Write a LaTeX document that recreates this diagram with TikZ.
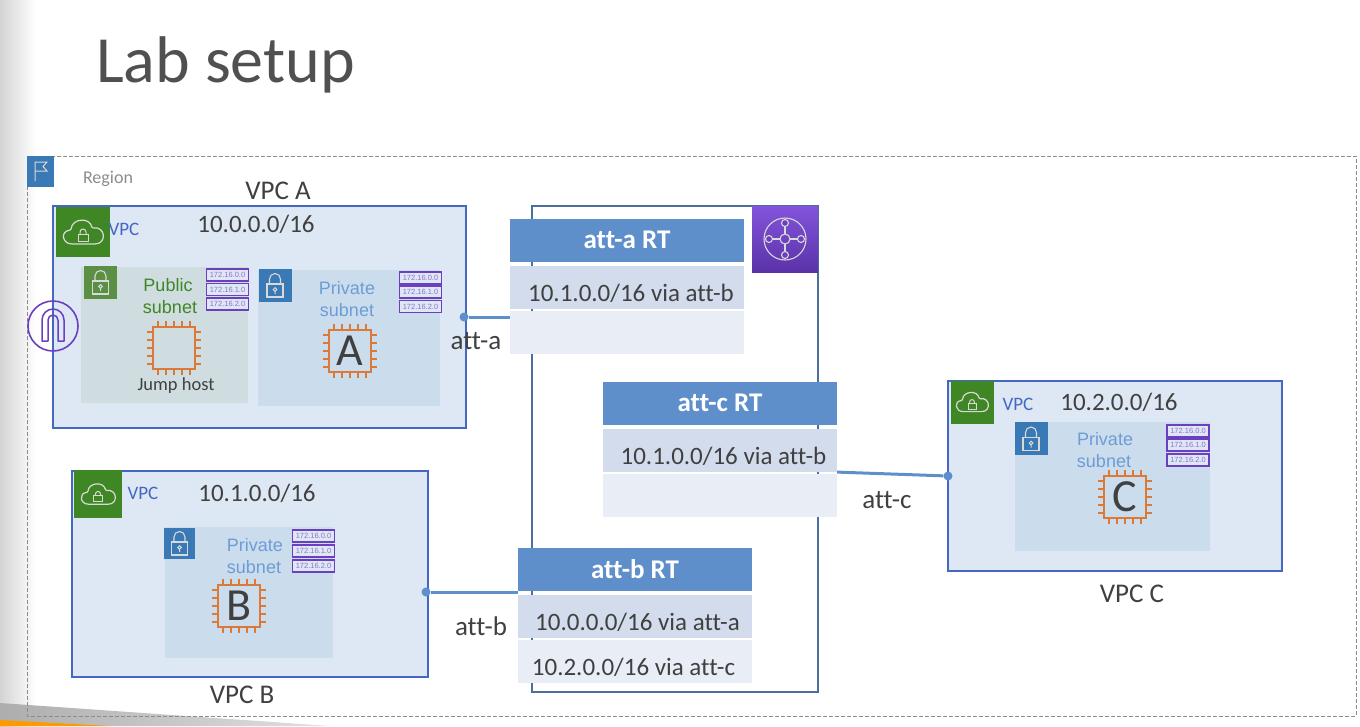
\documentclass[tikz,border=0pt]{standalone}
\usepackage{fontspec}
\setmainfont[Ligatures=NoCommon]{Carlito}
\newfontfamily\arialfont{Liberation Sans}
\usetikzlibrary{positioning}
\definecolor{textgray}{HTML}{404040}
\definecolor{titlegray}{HTML}{505050}
\definecolor{vpcblue}{HTML}{4467C4}
\definecolor{vpcfill}{HTML}{DEE8F4}
\definecolor{pubfill}{HTML}{CFDDE0}
\definecolor{privfill}{HTML}{CBDCEC}
\definecolor{awsgreen}{HTML}{3F8624}
\definecolor{pubgreen}{HTML}{5A8F44}
\definecolor{lockblue}{HTML}{3979B5}
\definecolor{privtext}{HTML}{6D9CD6}
\definecolor{awspurple}{HTML}{6B3FC0}
\definecolor{tgwtop}{HTML}{8354DC}
\definecolor{tgwbottom}{HTML}{5A32A8}
\definecolor{chiporange}{HTML}{D9793A}
\definecolor{headblue}{HTML}{5F8FCB}
\definecolor{rowdark}{HTML}{D2DCEC}
\definecolor{rowlight}{HTML}{E9EDF6}
\definecolor{tgwline}{HTML}{4A6F9C}
\newcommand{\rowtxt}[2]{\hspace*{#1}\raisebox{-14pt}[0pt][0pt]{#2}}
\tikzset{
	txt/.style={text=textgray,font=\fontsize{27}{27}\selectfont,inner sep=0pt},
	vpcbox/.style={draw=vpcblue,fill=vpcfill,line width=1.4pt},
	iconbox/.style={minimum width=#1,minimum height=#1,inner sep=0pt},
	vpctag/.style={text=vpcblue,font=\fontsize{19}{19}\selectfont,inner sep=0pt},
	subnettxt/.style={text=privtext,font=\arialfont\fontsize{18}{18}\selectfont,inner sep=0pt},
	cidr/.style={draw=awspurple,fill=vpcfill,line width=1.5pt,text=awspurple!75,
		font=\arialfont\fontsize{7.5}{7.5}\selectfont,minimum width=42pt,minimum height=12pt,inner sep=0pt},
	chipltr/.style={text=textgray,font=\fontsize{46}{46}\selectfont,inner sep=0pt},
	rthead/.style={fill=headblue,text=white,font=\bfseries\fontsize{27}{27}\selectfont,
		minimum width=234pt,minimum height=43pt,inner sep=0pt},
	rtrow/.style={fill=#1,text=textgray,font=\fontsize{25}{25}\selectfont,
		minimum width=234pt,minimum height=43pt,inner sep=0pt},
	dot/.style={circle,fill=headblue,minimum size=9pt,inner sep=0pt},
	attline/.style={draw=headblue,line width=3pt},
	chip/.pic={
		\draw [chiporange,line width=1.9pt,fill=none] (-21,-21) rectangle (21,21);
		\foreach \t in {-16,-8,0,8,16} {
			\draw [chiporange,line width=1.7pt] (\t,-21) -- (\t,-27) (\t,21) -- (\t,27);
			\draw [chiporange,line width=1.7pt] (-21,\t) -- (-27,\t) (21,\t) -- (27,\t);
		}
	},
	lock/.pic={
		\draw [white!85!black,line width=1.1pt] (-8,-1) rectangle (8,12);
		\draw [white!85!black,line width=1.1pt] (-5.5,-1) -- (-5.5,-6) arc (180:360:5.5) -- (5.5,-1);
		\draw [white!85!black,line width=1pt] (0,4.5) circle (1.8) (0,6.3) -- (0,9);
	},
	cloud/.pic={
		\draw [white!85!black,line width=1.2pt,rounded corners=1pt]
			(-10,12) .. controls (-21,12) and (-23,-1) .. (-12,-2)
			.. controls (-11,-14) and (7,-15) .. (9,-4)
			.. controls (23,-6) and (24,12) .. (11,12) -- cycle;
		\draw [white!85!black,line width=1pt] (-5,2) rectangle (5,9);
		\draw [white!85!black,line width=1pt] (-3,2) -- (-3,0) arc (180:360:3) -- (3,2);
	},
}
\begin{document}
\begin{tikzpicture}[x=1pt,y=-1pt]
	\useasboundingbox (0,0) rectangle (1360,726);

	% фон слайда
	\shade [left color=black!17,right color=white] (0,0) rectangle (36,726);
	\shade [left color=black!32,right color=black!12] (0,703) -- (330,726) -- (0,726) -- cycle;
	\fill [orange!80!yellow] (0,720) -- (110,726) -- (0,726) -- cycle;

	\node [text=titlegray,font=\fontsize{66}{66}\selectfont,anchor=base west,inner sep=0pt] (title) at (96,82) {Lab setup};

	% регион
	\draw [black!45,dashed,line width=0.9pt,dash pattern=on 4pt off 2pt] (27,156) rectangle (1356,716);
	\node [fill=lockblue,minimum width=27pt,minimum height=31pt,inner sep=0pt] (flagicon) at (40.5,171.5) {};
	\draw [white!85!black,line width=1pt] (35,181) -- (35,162) -- (47,162) -- (43,166.5) -- (47,171) -- (35,171);
	\node [text=black!45,font=\fontsize{18}{18}\selectfont,inner sep=0pt] (region) at (108,179) {Region};

	% VPC A
	\draw [vpcbox] (53,206) rectangle (466,428);
	\node [txt] (vpcaname) at (278,191) {VPC A};
	\node [txt,font=\fontsize{25}{25}\selectfont] (vpcacidr) at (256,224) {10.0.0.0/16};
	\node [fill=awsgreen,minimum width=54pt,minimum height=50pt,inner sep=0pt] (vpcaicon) at (83,232) {};
	\pic at (vpcaicon) {cloud};
	\node [vpctag] (vpcatag) at (124,229) {VPC};

	\fill [pubfill] (81,267) rectangle (248,403);
	\node [fill=pubgreen,iconbox=33pt] (pubicon) at (100.5,282) {};
	\pic at (pubicon) {lock};
	\node [subnettxt,text=awsgreen] (pubtxta) at (168,285) {Public};
	\node [subnettxt,text=awsgreen] (pubtxtb) at (170,307) {subnet};
	\node [cidr] (puba) at (227.5,275) {172.16.0.0};
	\node [cidr] (pubb) at (227.5,289.5) {172.16.1.0};
	\node [cidr] (pubc) at (227.5,304) {172.16.2.0};
	\pic at (174,348) {chip};
	\node [txt,font=\fontsize{18.5}{18.5}\selectfont] (jump) at (176,386) {Jump host};

	\fill [privfill] (258,270) rectangle (440,406);
	\node [fill=lockblue,iconbox=33pt] (privaicon) at (275,285) {};
	\pic at (privaicon) {lock};
	\node [subnettxt] (privatxta) at (347,288) {Private};
	\node [subnettxt] (privatxtb) at (347,310) {subnet};
	\node [cidr] (privaa) at (420.5,278) {172.16.0.0};
	\node [cidr] (privab) at (420.5,292) {172.16.1.0};
	\node [cidr] (privac) at (420.5,306.5) {172.16.2.0};
	\pic at (350,351) {chip};
	\node [chipltr] (chipa) at (350,351) {A};

	% шлюз
	\draw [awspurple,line width=1.6pt] (53,326) circle (25);
	\draw [awspurple,line width=1.5pt,line join=round] (42,341) -- (42,320) arc (180:360:11) -- (64,341) -- (58,341) -- (58,320) arc (360:180:5) -- (48,341) -- cycle;

	% VPC B
	\draw [vpcbox] (72,471) rectangle (428,677);
	\node [txt] (vpcbname) at (242,695) {VPC B};
	\node [txt,font=\fontsize{25}{25}\selectfont] (vpcbcidr) at (257,493) {10.1.0.0/16};
	\node [fill=awsgreen,iconbox=48pt] (vpcbicon) at (98,494) {};
	\pic [scale=0.85] at (vpcbicon) {cloud};
	\node [vpctag] (vpcbtag) at (143,493) {VPC};

	\fill [privfill] (165,527) rectangle (333,658);
	\node [fill=lockblue,iconbox=31pt] (privbicon) at (179.5,543) {};
	\pic at (privbicon) {lock};
	\node [subnettxt] (privbtxta) at (255,545) {Private};
	\node [subnettxt] (privbtxtb) at (254,567) {subnet};
	\node [cidr] (privba) at (313.5,536) {172.16.0.0};
	\node [cidr] (privbb) at (313.5,551) {172.16.1.0};
	\node [cidr] (privbc) at (313.5,566) {172.16.2.0};
	\pic at (239,606) {chip};
	\node [chipltr] (chipb) at (239,606) {B};

	% VPC C
	\draw [vpcbox] (948,381) rectangle (1282,571);
	\node [txt] (vpccname) at (1132,594) {VPC C};
	\node [txt,font=\fontsize{25}{25}\selectfont] (vpcccidr) at (1119,402) {10.2.0.0/16};
	\node [fill=awsgreen,iconbox=43pt] (vpccicon) at (972,402) {};
	\pic [scale=0.8] at (vpccicon) {cloud};
	\node [vpctag] (vpcctag) at (1018,404) {VPC};

	\fill [privfill] (1015,422) rectangle (1210,551);
	\node [fill=lockblue,iconbox=33pt] (privcicon) at (1031,438.5) {};
	\pic at (privcicon) {lock};
	\node [subnettxt] (privctxta) at (1105,439) {Private};
	\node [subnettxt] (privctxtb) at (1104,461) {subnet};
	\node [cidr] (privca) at (1188,431) {172.16.0.0};
	\node [cidr] (privcb) at (1188,445) {172.16.1.0};
	\node [cidr] (privcc) at (1188,460) {172.16.2.0};
	\pic at (1125,497) {chip};
	\node [chipltr] (chipc) at (1125,497) {C};

	% транзитный шлюз
	\draw [tgwline,line width=1.3pt] (532,206) rectangle (818,692);
	\node [top color=tgwtop,bottom color=tgwbottom,iconbox=66pt] (tgwicon) at (785,239) {};
	\draw [white!85!black,line width=1.1pt] (tgwicon) circle (21);
	\draw [white!85!black,line width=1.1pt] (tgwicon) circle (5);
	\foreach \a in {0,90,180,270} {
		\draw [white!85!black,line width=1.1pt,fill=awspurple] (tgwicon) ++(\a:16) circle (3.5);
		\draw [white!85!black,line width=1.1pt] (tgwicon) ++(\a:5) -- ++(\a:7.5);
	}

	% таблица att-a
	\node [rthead] (rta) at (627,240) {att-a RT};
	\node [rtrow=rowdark,below=4pt of rta] (rtaa) {\rowtxt{8pt}{10.1.0.0/16 via att-b}};
	\node [rtrow=rowlight,below=2pt of rtaa] (rtab) {};

	% таблица att-c
	\node [rthead] (rtc) at (720,403) {att-c RT};
	\node [rtrow=rowdark,below=4pt of rtc] (rtca) {\rowtxt{7pt}{10.1.0.0/16 via att-b}};
	\node [rtrow=rowlight,below=2pt of rtca] (rtcb) {};

	% таблица att-b
	\node [rthead] (rtb) at (635,569) {att-b RT};
	\node [rtrow=rowdark,below=4pt of rtb] (rtba) {\rowtxt{5pt}{10.0.0.0/16 via att-a}};
	\node [rtrow=rowlight,below=2pt of rtba] (rtbb) {\rowtxt{-3pt}{10.2.0.0/16 via att-c}};

	% подключения
	\node [dot] (dota) at (464,317) {};
	\draw [attline] (dota) -- (dota -| rtab.west);
	\node [txt] (atta) at (476,341) {att-a};
	\node [dot] (dotb) at (426,592) {};
	\draw [attline] (dotb) -- (dotb -| rtb.west);
	\node [txt] (attb) at (481,626) {att-b};
	\node [dot] (dotc) at (948,476) {};
	\draw [attline] (rtca.south east) -- (dotc);
	\node [txt] (attc) at (887,500) {att-c};
\end{tikzpicture}
\end{document}
